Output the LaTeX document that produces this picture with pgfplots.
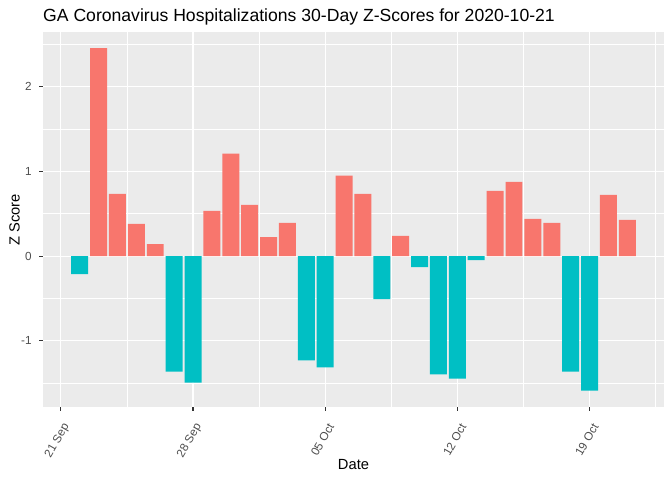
\documentclass[border=0pt]{standalone}
\usepackage{pgfplots}
\pgfplotsset{compat=1.18}
\usepackage{fontspec}
\setmainfont{Liberation Sans}
\definecolor{ggred}{HTML}{F8766D}
\definecolor{ggteal}{HTML}{00BFC4}
\definecolor{ggpanel}{HTML}{EBEBEB}
\definecolor{ggtext}{HTML}{4D4D4D}
\definecolor{ggtick}{HTML}{333333}

\begin{document}
\begin{tikzpicture}[x=1bp,y=1bp]
\path[use as bounding box] (0,0) rectangle (672,480);
\begin{axis}[
  at={(43bp,73bp)}, anchor=south west,
  scale only axis, width=621bp, height=375bp,
  xmin=-0.945, xmax=31.945, ymin=-1.783, ymax=2.647,
  axis background/.style={fill=ggpanel},
  axis line style={draw=none},
  xtick={0,7,14,21,28},
  xticklabels={21 Sep, 28 Sep, 05 Oct, 12 Oct, 19 Oct},
  minor xtick={3.5,10.5,17.5,24.5,31.5},
  ytick={-1,0,1,2}, yticklabels={-1,0,1,2},
  minor ytick={-1.5,-0.5,0.5,1.5,2.5},
  grid=both,
  major grid style={white, line width=1.07bp},
  minor grid style={white, line width=0.53bp},
  tick align=outside, xtick pos=bottom, ytick pos=left,
  major tick length=3.67bp, minor tick length=0bp,
  every tick/.style={ggtick, line width=1.07bp},
  tick label style={font=\fontsize{11.7bp}{13bp}\selectfont, text=ggtext},
  yticklabel style={anchor=east, inner sep=0pt, xshift=-7.5bp},
  xticklabel style={xshift=6bp, yshift=-14bp, rotate=60, anchor=east, inner sep=0pt},
]
\addplot[ybar, bar width=0.9, bar shift=0pt, fill=ggred, draw=none] coordinates {
  (2,2.455) (3,0.735) (4,0.379) (5,0.142)
  (8,0.534) (9,1.209) (10,0.605) (11,0.225) (12,0.391)
  (15,0.949) (16,0.735) (18,0.237)
  (23,0.771) (24,0.877) (25,0.439) (26,0.391)
  (29,0.724) (30,0.427)
};
\addplot[ybar, bar width=0.9, bar shift=0pt, fill=ggteal, draw=none] coordinates {
  (1,-0.213) (6,-1.364) (7,-1.494)
  (13,-1.233) (14,-1.316) (17,-0.510)
  (19,-0.130) (20,-1.399) (21,-1.447) (22,-0.047)
  (27,-1.364) (28,-1.589)
};
\end{axis}
\node[anchor=base west, inner sep=0pt, font=\fontsize{17.6bp}{20bp}\selectfont] at (43,458) {GA Coronavirus Hospitalizations 30-Day Z-Scores for 2020-10-21};
\node[anchor=base, inner sep=0pt, font=\fontsize{14.7bp}{16bp}\selectfont] at (353.5,10) {Date};
\node[rotate=90, anchor=base, inner sep=0pt, font=\fontsize{14.7bp}{16bp}\selectfont] at (19.5,260) {Z Score};
\end{tikzpicture}
\end{document}
